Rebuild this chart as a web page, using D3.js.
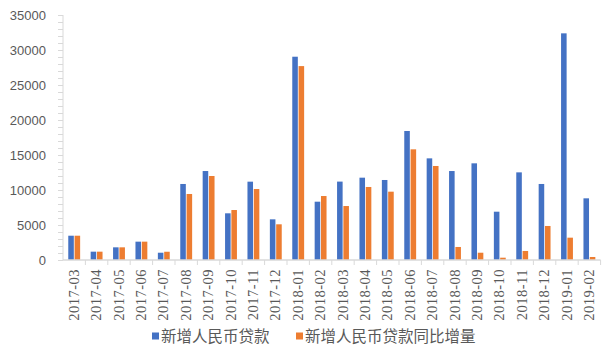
<!DOCTYPE html>
<html>
<head>
<meta charset="utf-8">
<script src="https://cdn.jsdelivr.net/npm/d3@7/dist/d3.min.js"></script>
<style>
  html, body { margin: 0; padding: 0; background: #fff; }
  svg { display: block; }
</style>
</head>
<body>
<div id="chart"></div>
<script>
// Monthly new RMB loans (100 million yuan) and their year-on-year increase
const months = [
  "2017-03","2017-04","2017-05","2017-06","2017-07","2017-08","2017-09","2017-10",
  "2017-11","2017-12","2018-01","2018-02","2018-03","2018-04","2018-05","2018-06",
  "2018-07","2018-08","2018-09","2018-10","2018-11","2018-12","2019-01","2019-02"
];
const newLoans = [
  3470, 1190, 1810, 2620, 1040, 10860, 12710, 6670,
  11190, 5810, 29040, 8330, 11200, 11760, 11430, 18430,
  14520, 12710, 13810, 6900, 12520, 10860, 32380, 8810
];
const yoyIncrease = [
  3470, 1190, 1810, 2620, 1180, 9430, 12000, 7140,
  10140, 5100, 27700, 9140, 7710, 10430, 9760, 15810,
  13430, 1860, 1040, 330, 1290, 4860, 3190, 430
];
const seriesNames = ["新增人民币贷款", "新增人民币贷款同比增量"];
const seriesColors = ["#4472C4", "#ED7D31"];
const yTicks = [0, 5000, 10000, 15000, 20000, 25000, 30000, 35000];

const width = 602, height = 347;
const margin = { top: 15, right: 1.4, bottom: 87, left: 63 };
const axisColor = "#d9d9d9";
const textColor = "#595959";

const svg = d3.select("#chart").append("svg")
  .attr("width", width).attr("height", height);

const rows = months.map((m, i) => ({ month: m, values: [newLoans[i], yoyIncrease[i]] }));

const x0 = d3.scaleBand()
  .domain(months)
  .range([margin.left, width - margin.right])
  .padding(0);

const x1 = d3.scaleBand()
  .domain([0, 1])
  .range([x0.bandwidth() * 0.235, x0.bandwidth() * 0.765])
  .paddingInner(0.12);

const y = d3.scaleLinear()
  .domain([0, 35000])
  .range([height - margin.bottom, margin.top]);

// Bars
const groups = svg.append("g").selectAll("g")
  .data(rows).join("g")
  .attr("transform", d => `translate(${x0(d.month)},0)`);

groups.selectAll("rect")
  .data(d => d.values.map((v, k) => ({ k, v })))
  .join("rect")
  .attr("x", d => x1(d.k))
  .attr("width", x1.bandwidth())
  .attr("y", d => y(d.v))
  .attr("height", d => y(0) - y(d.v))
  .attr("fill", d => seriesColors[d.k]);

// Y axis with minor ticks every 1000
const yAxisG = svg.append("g")
  .attr("transform", `translate(${margin.left},0)`);
yAxisG.call(d3.axisLeft(y).tickValues(d3.range(0, 35001, 1000)).tickSize(5).tickFormat(""));
yAxisG.selectAll("line").attr("stroke", axisColor);
yAxisG.select(".domain").attr("stroke", axisColor).attr("d", `M0,${y(35000)}V${y(0)}`);

const yLabels = svg.append("g")
  .attr("transform", `translate(${margin.left},0)`)
  .call(d3.axisLeft(y).tickValues(yTicks).tickSize(0).tickPadding(17).tickFormat(d3.format("d")));
yLabels.select(".domain").remove();
yLabels.selectAll("text")
  .attr("fill", textColor)
  .style("font-family", "'Liberation Sans', Arial, sans-serif")
  .style("font-size", "13px");

// X axis: boundary ticks below the baseline
const xAxisG = svg.append("g")
  .attr("transform", `translate(0,${y(0)})`);
xAxisG.append("line")
  .attr("x1", margin.left).attr("x2", width - margin.right)
  .attr("stroke", axisColor).attr("stroke-width", 1.5);
xAxisG.selectAll("line.tick")
  .data(months.slice(1).concat(["__end"]))
  .join("line")
  .attr("class", "tick")
  .attr("x1", d => d === "__end" ? width - margin.right : x0(d))
  .attr("x2", d => d === "__end" ? width - margin.right : x0(d))
  .attr("y1", 0).attr("y2", 5)
  .attr("stroke", axisColor);

xAxisG.selectAll("text")
  .data(months)
  .join("text")
  .attr("transform", d => `translate(${x0(d) + x0.bandwidth() / 2 + 4.5},9) rotate(-90)`)
  .attr("text-anchor", "end")
  .attr("fill", textColor)
  .style("font-family", "'Liberation Serif', 'Times New Roman', serif")
  .style("font-size", "14.5px")
  .style("letter-spacing", "0.5px")
  .text(d => d);

// Legend
const legend = svg.append("g").attr("transform", `translate(0,336)`);
const legendX = [152, 296];
seriesNames.forEach((name, k) => {
  legend.append("rect")
    .attr("x", legendX[k]).attr("y", -3.5)
    .attr("width", 7).attr("height", 7)
    .attr("fill", seriesColors[k]);
  legend.append("text")
    .attr("x", legendX[k] + 9).attr("y", 0)
    .attr("dy", "0.36em")
    .attr("fill", textColor)
    .style("font-family", "'Noto Sans CJK SC', sans-serif")
    .style("font-size", "15.5px")
    .text(name);
});
</script>
</body>
</html>
